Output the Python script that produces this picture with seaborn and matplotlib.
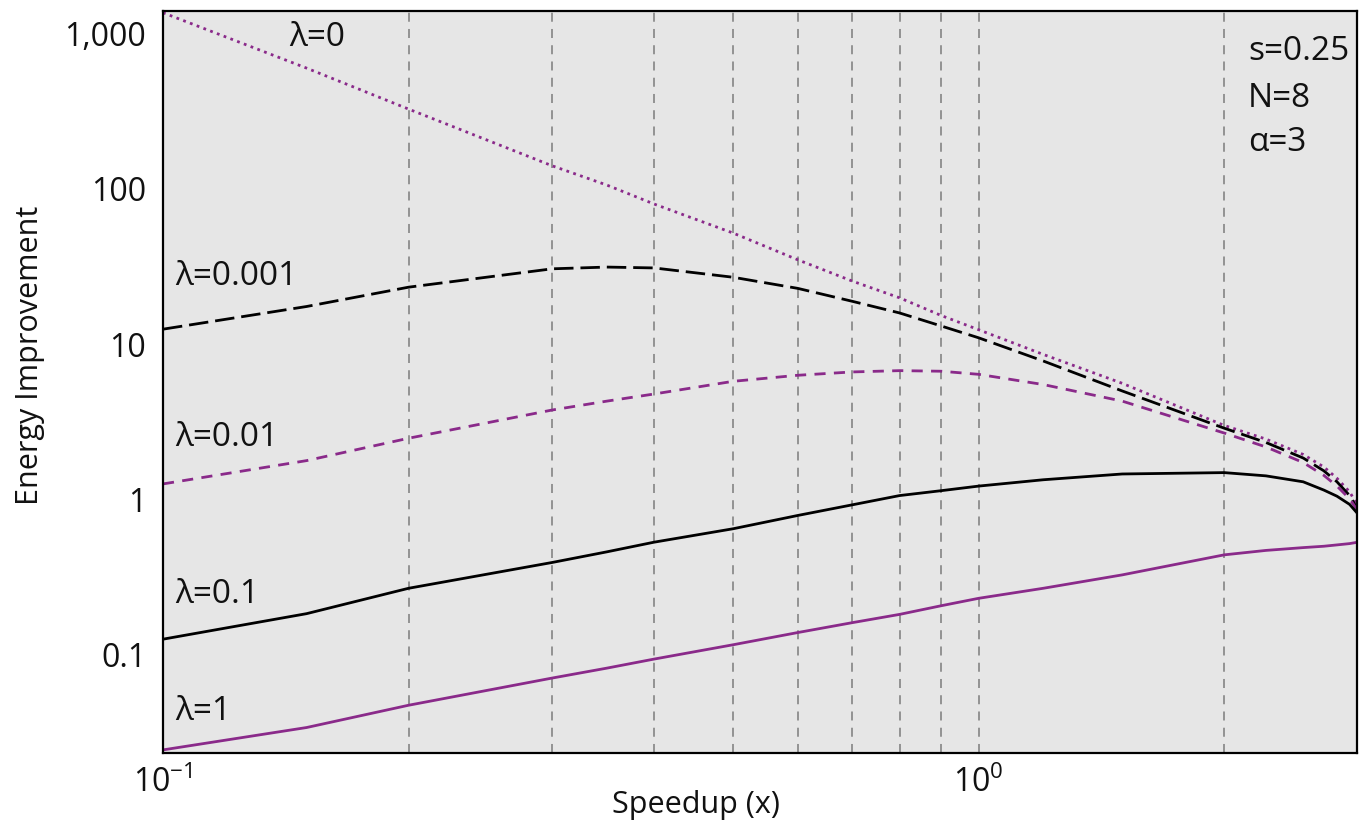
import numpy as np
import pandas as pd
import matplotlib
matplotlib.use("Agg")
import matplotlib.pyplot as plt
from matplotlib.ticker import LogLocator, NullFormatter, NullLocator, FixedLocator, FixedFormatter
import seaborn as sns

# Values (log-log)
speedup = [0.1, 0.15, 0.2, 0.3, 0.35, 0.4, 0.5, 0.6, 0.7, 0.8, 0.9, 1.0, 1.2, 1.5, 2.0, 2.25, 2.5, 2.65, 2.75, 2.85, 2.91]
lam_0 = [1365, 600, 327, 141, 106, 80, 52, 35, 25.5, 19.9, 15.3, 12.4, 8.6, 5.6, 3.0, 2.45, 1.95, 1.62, 1.37, 1.12, 0.93]
lam_0001 = [12.5, 17.5, 23.3, 30.6, 31.4, 31.0, 27.0, 22.9, 18.9, 15.9, 13.1, 11.0, 7.8, 5.0, 2.88, 2.33, 1.85, 1.53, 1.30, 1.06, 0.88]
lam_001 = [1.26, 1.78, 2.48, 3.77, 4.3, 4.78, 5.77, 6.31, 6.63, 6.76, 6.70, 6.40, 5.5, 4.3, 2.68, 2.18, 1.73, 1.43, 1.22, 1.01, 0.86]
lam_01 = [0.126, 0.184, 0.268, 0.393, 0.46, 0.531, 0.648, 0.789, 0.924, 1.06, 1.14, 1.22, 1.34, 1.46, 1.49, 1.42, 1.30, 1.15, 1.05, 0.93, 0.82]
lam_1 = [0.0244, 0.034, 0.0473, 0.0708, 0.082, 0.0938, 0.116, 0.139, 0.161, 0.182, 0.207, 0.231, 0.268, 0.327, 0.44, 0.47, 0.49, 0.50, 0.51, 0.52, 0.53]

series_names = ["λ=0", "λ=0.001", "λ=0.01", "λ=0.1", "λ=1"]
series_vals = [lam_0, lam_0001, lam_001, lam_01, lam_1]

# label anchor points (speedup, energy) for the in-plot annotations
label_x = [0.143, 0.1035, 0.1035, 0.1035, 0.1035]
label_y = [940, 27.5, 2.49, 0.244, 0.043]
params_text = ["s=0.25", "N=8", "α=3"]
params_y = [766, 381, 198]

ytick_vals = [0.1, 1, 10, 100, 1000]
ytick_labels = ["0.1", "1", "10", "100", "1,000"]

PURPLE = "#8a2a8a"
FS = 24

df = pd.DataFrame({
    "speedup": np.tile(speedup, len(series_names)),
    "energy": np.concatenate(series_vals),
    "series": np.repeat(series_names, len(speedup)),
})

sns.set_style("white")
plt.rcParams["font.family"] = ["Open Sans", "DejaVu Sans"]
plt.rcParams["mathtext.fontset"] = "custom"
plt.rcParams["mathtext.rm"] = "Open Sans"
plt.rcParams["mathtext.it"] = "Open Sans"

fig = plt.figure(figsize=(13.62, 8.32), dpi=100)
ax = fig.add_axes([163 / 1362, 1 - 753 / 832, 1194 / 1362, 742 / 832])
ax.set_facecolor("#e6e6e6")

styles = {
    "λ=0": dict(color=PURPLE, dashes=(1.0, 1.6)),
    "λ=0.001": dict(color="black", dashes=(7, 2.5)),
    "λ=0.01": dict(color=PURPLE, dashes=(4, 3)),
    "λ=0.1": dict(color="black", dashes=None),
    "λ=1": dict(color=PURPLE, dashes=None),
}

for name in series_names:
    sub = df[df["series"] == name]
    st = styles[name]
    line = sns.lineplot(data=sub, x="speedup", y="energy", ax=ax, color=st["color"],
                        linewidth=2.0, legend=False, errorbar=None, sort=False).lines[-1]
    if st["dashes"] is not None:
        line.set_dashes(st["dashes"])

ax.set_xscale("log")
ax.set_yscale("log")
ax.set_xlim(0.1, 2.91)
ax.set_ylim(0.0233, 1400)

# x ticks: decades labelled, minor positions used only for the grid
ax.xaxis.set_major_locator(FixedLocator([0.1, 1.0]))
ax.xaxis.set_major_formatter(FixedFormatter([r"$10^{-1}$", r"$10^{0}$"]))
ax.xaxis.set_minor_locator(LogLocator(base=10, subs=np.arange(2, 10)))
ax.xaxis.set_minor_formatter(NullFormatter())
ax.yaxis.set_major_locator(FixedLocator(ytick_vals))
ax.yaxis.set_major_formatter(FixedFormatter(ytick_labels))
ax.yaxis.set_minor_locator(NullLocator())

ax.tick_params(axis="both", which="both", length=0, labelsize=FS - 1, colors="#111111")
ax.tick_params(axis="x", pad=10)
ax.tick_params(axis="y", pad=12)

ax.grid(False)
ax.grid(True, axis="x", which="both", color="#8c8c8c", linestyle=(0, (5, 4)), linewidth=1.3)
ax.set_axisbelow(True)

for sp in ax.spines.values():
    sp.set_visible(True)
    sp.set_color("black")
    sp.set_linewidth(1.6)

ax.set_xlabel("Speedup (x)", fontsize=FS - 2, color="#111111")
ax.set_ylabel("Energy Improvement", fontsize=FS - 2, color="#111111")
ax.xaxis.set_label_coords(0.446, -0.050)
ax.yaxis.set_label_coords(-0.099, 0.536)

for name, lx, ly in zip(series_names, label_x, label_y):
    ax.text(lx, ly, name, fontsize=FS, ha="left", va="center", color="#111111")

for t, py in zip(params_text, params_y):
    ax.text(2.14, py, t, fontsize=FS, ha="left", va="center", color="#111111")

plt.savefig("out.png", dpi=100)
